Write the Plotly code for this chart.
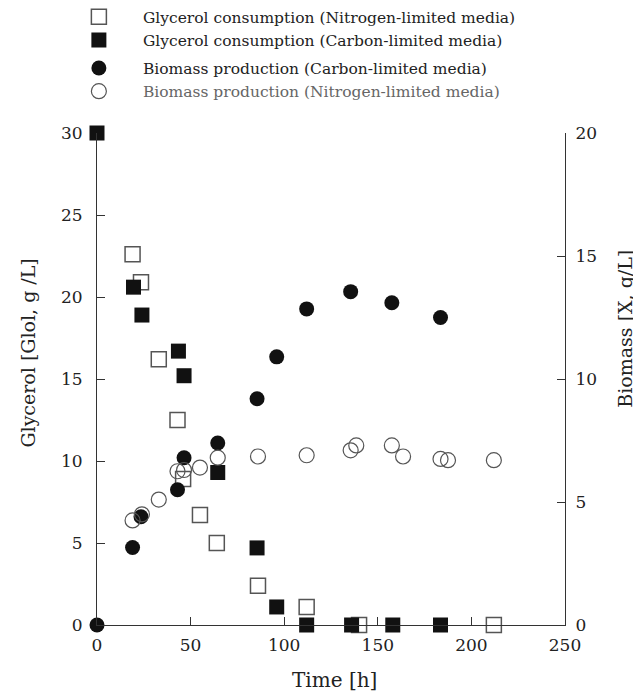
import plotly.graph_objects as go

# Glycerol, nitrogen-limited media (open squares)
gly_n_t = [19, 23.5, 33, 43, 46, 55, 64, 86, 112, 140, 212]
gly_n_v = [22.6, 20.9, 16.2, 12.5, 8.9, 6.7, 5.0, 2.4, 1.1, 0.0, 0.0]

# Glycerol, carbon-limited media (filled squares)
gly_c_t = [0, 19.5, 24, 43.5, 46.5, 64.5, 85.5, 96, 112, 136, 158, 183.5]
gly_c_v = [30.0, 20.6, 18.9, 16.7, 15.2, 9.3, 4.7, 1.1, 0.0, 0.0, 0.0, 0.0]

# Biomass, carbon-limited media (filled circles)
bio_c_t = [0, 19, 23.5, 43, 46.5, 64.5, 85.5, 96, 112, 135.5, 157.5, 183.5]
bio_c_v = [0.0, 3.15, 4.4, 5.5, 6.8, 7.4, 9.2, 10.9, 12.85, 13.55, 13.1, 12.5]

# Biomass, nitrogen-limited media (open circles)
bio_n_t = [19, 24, 33, 43, 46.5, 55, 64.5, 86, 112, 135.5, 138.5, 157.5, 163.5, 183.5, 187.5, 212]
bio_n_v = [4.25, 4.5, 5.1, 6.25, 6.3, 6.4, 6.8, 6.85, 6.9, 7.1, 7.3, 7.3, 6.85, 6.75, 6.7, 6.7]

x_ticks = [0, 50, 100, 150, 200, 250]
y_ticks = [0, 5, 10, 15, 20, 25, 30]
y2_ticks = [0, 5, 10, 15, 20]

FONT = "DejaVu Serif"
INK = "#222222"
GRAY = "#555555"

fig = go.Figure()
fig.add_trace(go.Scatter(
    x=gly_n_t, y=gly_n_v, mode="markers", yaxis="y",
    name="Glycerol consumption (Nitrogen-limited media)",
    legendgroup="g",
    marker=dict(symbol="square-open", size=15, color=GRAY, line=dict(width=1.5, color=GRAY)),
    cliponaxis=False))
fig.add_trace(go.Scatter(
    x=gly_c_t, y=gly_c_v, mode="markers", yaxis="y",
    name="Glycerol consumption (Carbon-limited media)",
    legendgroup="g",
    marker=dict(symbol="square", size=15, color="#111111"),
    cliponaxis=False))
fig.add_trace(go.Scatter(
    x=bio_c_t, y=bio_c_v, mode="markers", yaxis="y2",
    name="Biomass production (Carbon-limited media)",
    legendgroup="b",
    marker=dict(symbol="circle", size=15, color="#111111"),
    cliponaxis=False))
fig.add_trace(go.Scatter(
    x=bio_n_t, y=bio_n_v, mode="markers", yaxis="y2",
    name='<span style="color:#666666">Biomass production (Nitrogen-limited media)</span>',
    legendgroup="b",
    marker=dict(symbol="circle-open", size=15, color=GRAY, line=dict(width=1.2, color=GRAY)),
    cliponaxis=False))

axis_common = dict(showgrid=False, zeroline=False, showline=True, linecolor="#333333",
                   linewidth=1, ticks="inside", ticklen=8, tickcolor="#333333",
                   tickfont=dict(family=FONT, size=17, color=INK))

fig.update_layout(
    width=633, height=687,
    margin=dict(l=89, r=76, t=125, b=70, autoexpand=False),
    paper_bgcolor="white", plot_bgcolor="white",
    font=dict(family=FONT, color=INK),
    xaxis=dict(range=[0, 250], tickvals=x_ticks, ticklabelstandoff=5, **axis_common),
    yaxis=dict(range=[0, 30], tickvals=y_ticks, ticklabelstandoff=10, **axis_common),
    yaxis2=dict(range=[0, 20], tickvals=y2_ticks, overlaying="y", side="right",
                ticklabelstandoff=6, **axis_common),
    showlegend=True,
    legend=dict(x=-0.09, y=1.27, xanchor="left", yanchor="top",
                traceorder="grouped", tracegroupgap=5, itemwidth=78,
                font=dict(family=FONT, size=15.5, color=INK),
                bgcolor="rgba(0,0,0,0)"),
    annotations=[
        dict(text="Time [h]", xref="paper", yref="paper", x=0.508, y=-0.112,
             xanchor="center", yanchor="middle", showarrow=False,
             font=dict(family=FONT, size=20, color=INK)),
        dict(text="Glycerol [Glol, g /L]", xref="paper", yref="paper", x=-0.147, y=0.552,
             xanchor="center", yanchor="middle", showarrow=False, textangle=-90,
             font=dict(family=FONT, size=19, color=INK)),
        dict(text="Biomass [X, g/L]", xref="paper", yref="paper", x=1.128, y=0.602,
             xanchor="center", yanchor="middle", showarrow=False, textangle=-90,
             font=dict(family=FONT, size=19, color=INK)),
    ],
)

fig.write_html("out.html")
